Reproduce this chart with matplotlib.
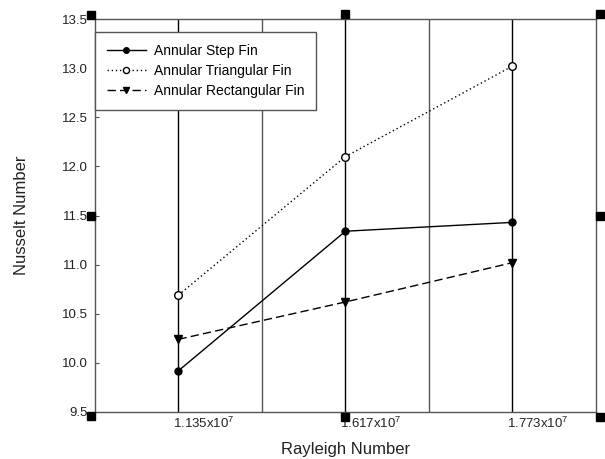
import matplotlib
matplotlib.use("Agg")
import matplotlib.pyplot as plt
from matplotlib.transforms import offset_copy, ScaledTranslation

plt.rcParams['font.family'] = ['Liberation Sans', 'DejaVu Sans']
plt.rcParams['mathtext.fontset'] = 'custom'
plt.rcParams['mathtext.rm'] = 'Liberation Sans'
plt.rcParams['mathtext.it'] = 'Liberation Sans'

categories = [r'1.135x10$^{7}$', r'1.617x10$^{7}$', r'1.773x10$^{7}$']
step_fin = [9.92, 11.34, 11.43]
triangular_fin = [10.69, 12.10, 13.02]
rectangular_fin = [10.24, 10.62, 11.02]
yticks = [9.5, 10.0, 10.5, 11.0, 11.5, 12.0, 12.5, 13.0, 13.5]

fig = plt.figure(figsize=(6.05, 4.59), dpi=100)
ax = fig.add_axes([0.157, 0.1024, 0.828, 0.8562])

x = [1, 2, 3]
ax.set_xlim(0.5, 3.5)
ax.set_ylim(9.5, 13.5)

# vertical grid lines
for gx in [1, 2, 3]:
    ax.axvline(gx, color='black', lw=1.0, zorder=1)
for gx in [1.5, 2.5]:
    ax.axvline(gx, color='#555555', lw=1.0, zorder=1)

ax.plot(x, step_fin, color='black', ls='-', lw=1.0, marker='o', ms=5,
        mfc='black', mec='black', label='Annular Step Fin', zorder=3)
ax.plot(x, triangular_fin, color='black', ls=(0, (1, 2)), lw=1.0, marker='o', ms=5.5,
        mfc='white', mec='black', label='Annular Triangular Fin', zorder=3)
ax.plot(x, rectangular_fin, color='black', ls=(0, (6, 3)), lw=1.0, marker='v', ms=6,
        mfc='black', mec='black', label='Annular Rectangular Fin', zorder=3)

ax.set_xticks(x)
ax.set_xticklabels(categories, fontsize=9.5, color='#222222')
ax.tick_params(axis='x', length=0, pad=3)
shift = ScaledTranslation(-5 / 100, 0, fig.dpi_scale_trans)
for lbl in ax.get_xticklabels():
    lbl.set_horizontalalignment('left')
    lbl.set_transform(lbl.get_transform() + shift)
ax.set_yticks(yticks)
ax.set_yticklabels([f'{v:.1f}' for v in yticks], fontsize=9.5, color='#222222')
ax.tick_params(axis='y', direction='in', length=3, width=0.8, color='#555555', pad=5)

for s in ax.spines.values():
    s.set_color('#555555')
    s.set_linewidth(1.0)

ax.set_xlabel('Rayleigh Number', fontsize=12, color='#222222', labelpad=8)
ax.set_ylabel('Nusselt Number', fontsize=12, color='#222222', labelpad=24)

leg = ax.legend(loc='upper left', bbox_to_anchor=(0.0, 0.967), fontsize=10,
                frameon=True, fancybox=False, edgecolor='#555555', framealpha=1,
                handlelength=2.8, handletextpad=0.6, borderpad=0.85, labelspacing=0.45,
                borderaxespad=0, markerscale=0.8)
leg.get_frame().set_linewidth(1.0)
leg.set_zorder(5)

# decorative black squares around the frame
squares = [(0, 1, -4, 4), (0.5, 1, 0, 5), (1, 1, 4, 5),
           (0, 0.5, -4, 0), (1, 0.5, 4, 0),
           (0, 0, -4, -4), (0.5, 0, 0, -5), (1, 0, 4, -5)]
for xa, ya, dx, dy in squares:
    tr = offset_copy(ax.transAxes, fig=fig, x=dx, y=dy, units='dots')
    ax.plot([xa], [ya], marker='s', ms=6, color='black', transform=tr,
            clip_on=False, zorder=6)

fig.savefig('out.png', dpi=100)
